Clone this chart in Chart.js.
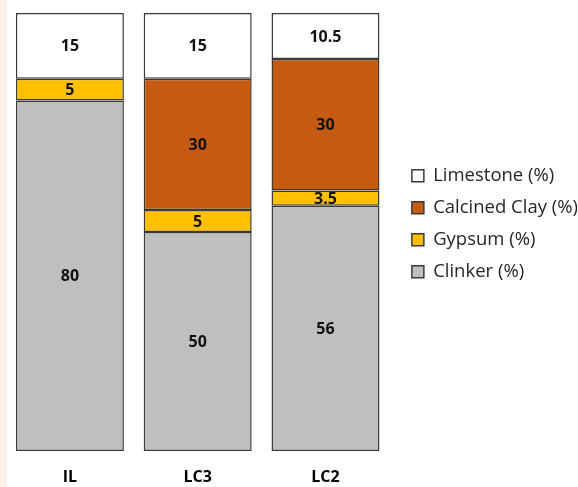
<!DOCTYPE html>
<html>
<head>
<meta charset="utf-8">
<script src="https://cdn.jsdelivr.net/npm/chart.js@4/dist/chart.umd.min.js"></script>
<style>
    html, body { margin: 0; padding: 0; overflow: hidden; }
    body {
        width: 578px;
        height: 487px;
        background: linear-gradient(to right, #fdf0e6 0, #fdf0e6 7px, #ffffff 7px);
    }
    canvas { display: block; }
</style>
</head>
<body>
<canvas id="mixChart" width="578" height="487"></canvas>
<script>
// data
const categories = ['IL', 'LC3', 'LC2'];
const clinker = [80, 50, 56];
const gypsum = [5, 5, 3.5];
const calcinedClay = [null, 30, 30];
const limestone = [15, 15, 10.5];

const edge = '#3a3a3a';

// labels in the middle of each segment
const segmentLabels = {
    id: 'segmentLabels',
    afterDatasetsDraw(chart) {
        const ctx = chart.ctx;
        ctx.save();
        ctx.font = 'bold 16px "Open Sans"';
        ctx.fillStyle = '#111';
        ctx.textAlign = 'center';
        ctx.textBaseline = 'middle';
        chart.data.datasets.forEach((ds, i) => {
            const meta = chart.getDatasetMeta(i);
            meta.data.forEach((bar, j) => {
                const v = ds.data[j];
                if (v === null || v === undefined) return;
                const p = bar.getCenterPoint();
                ctx.fillText(String(v), p.x, p.y + 1);
            });
        });
        ctx.restore();
    }
};

// nudge the legend a bit away from the bars
const legendNudge = {
    id: 'legendNudge',
    afterLayout(chart) {
        const lg = chart.legend;
        lg.left = chart.chartArea.right + 9;
        lg.right = lg.left + lg.width;
        lg.top -= 26;
        lg.bottom -= 26;
    }
};

const ctx = document.getElementById('mixChart');

new Chart(ctx, {
    type: 'bar',
    data: {
        labels: categories,
        datasets: [
            { label: 'Clinker (%)', data: clinker, backgroundColor: '#bfbfbf' },
            { label: 'Gypsum (%)', data: gypsum, backgroundColor: '#ffc000' },
            { label: 'Calcined Clay (%)', data: calcinedClay, backgroundColor: '#c55a11' },
            { label: 'Limestone (%)', data: limestone, backgroundColor: '#ffffff' }
        ].map(d => Object.assign(d, {
            borderColor: edge,
            borderWidth: 1.5,
            borderSkipped: false,
            categoryPercentage: 1,
            barPercentage: 0.845
        }))
    },
    options: {
        responsive: false,
        animation: false,
        layout: {
            padding: { left: 6, right: -1, top: 13, bottom: 0.4 }
        },
        plugins: {
            tooltip: { enabled: false },
            legend: {
                position: 'right',
                reverse: true,
                labels: {
                    boxWidth: 12,
                    boxHeight: 12,
                    padding: 13.5,
                    color: '#262626',
                    font: { family: '"Open Sans"', size: 18.5 }
                }
            }
        },
        scales: {
            x: {
                stacked: true,
                grid: { display: false, drawTicks: true, tickLength: 16.4 },
                border: { display: false },
                ticks: {
                    color: '#000',
                    padding: 0,
                    font: { family: '"Open Sans"', size: 16, weight: 'bold' }
                }
            },
            y: {
                stacked: true,
                display: false,
                min: 0,
                max: 100
            }
        }
    },
    plugins: [segmentLabels, legendNudge]
});
</script>
</body>
</html>
